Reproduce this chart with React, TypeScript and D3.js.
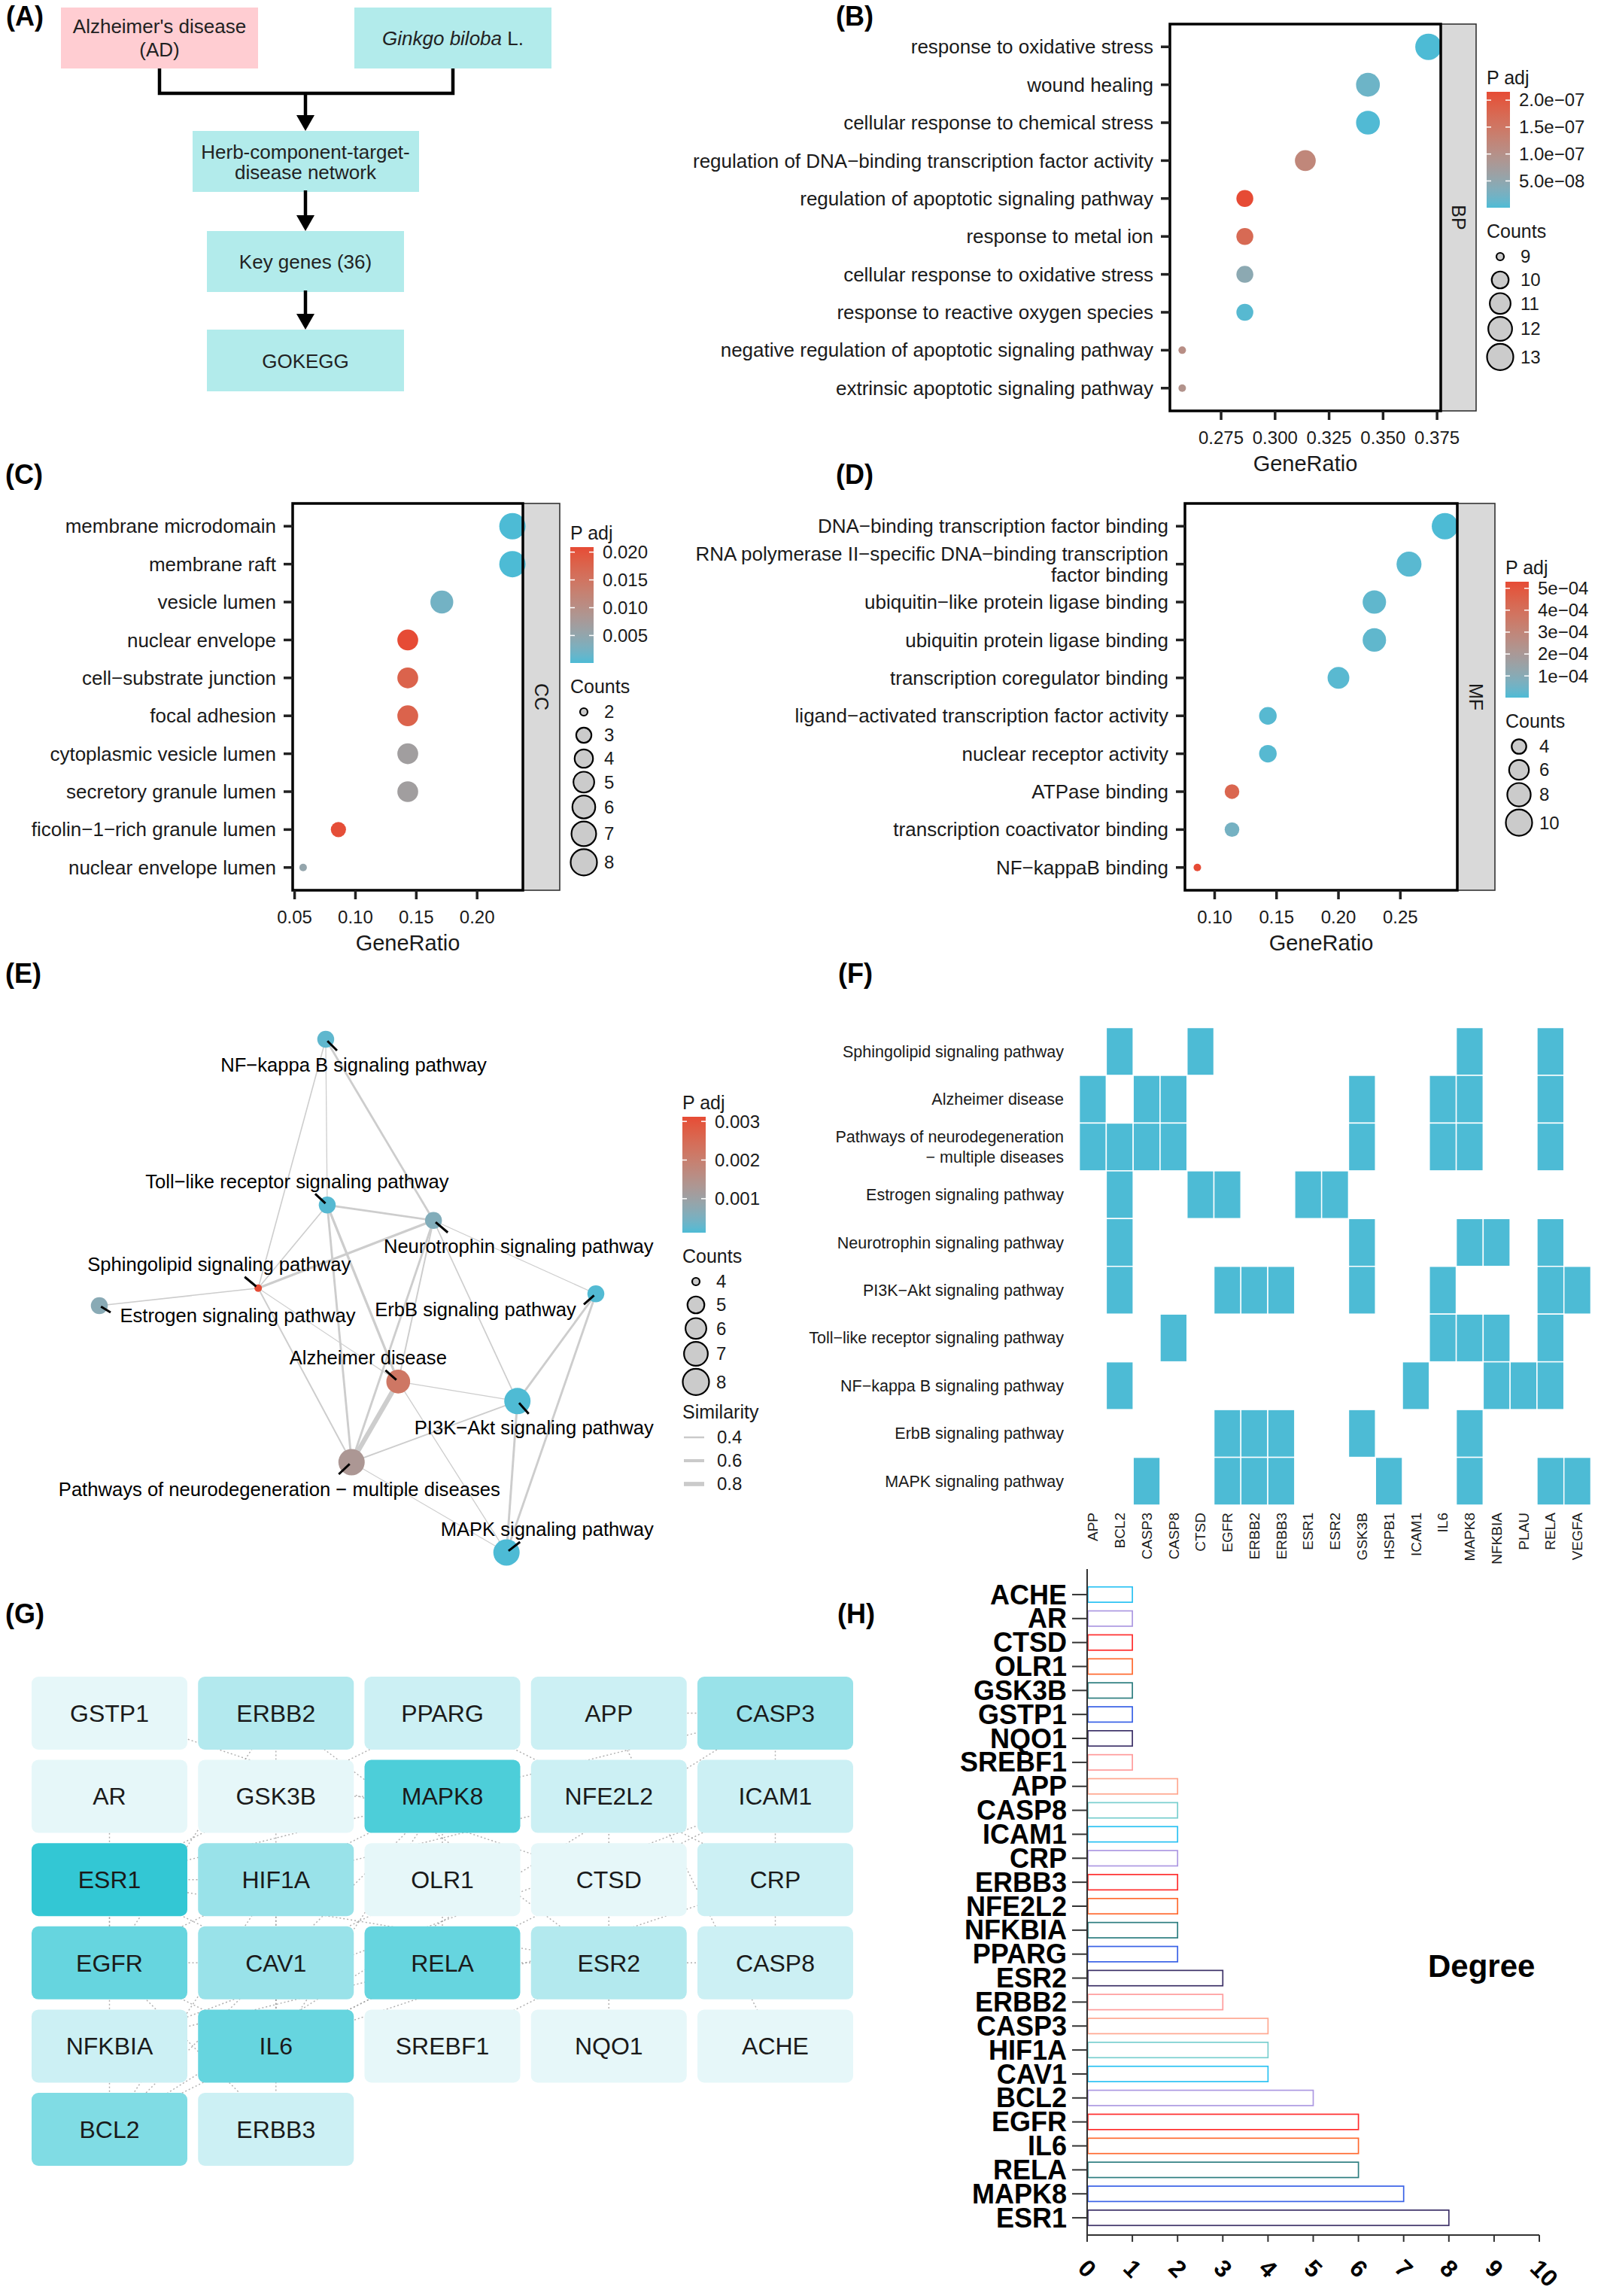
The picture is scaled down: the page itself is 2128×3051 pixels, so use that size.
import React from 'react';
import * as d3 from 'd3';

const W = 2128;
const H = 3051;
const FONT = "'Liberation Sans', Arimo, Arial, Helvetica, sans-serif";
const LOW = '#4DBBD5';
const HIGH = '#E64B35';
const INK = '#1a1a1a';

// ---------------- (B) GO biological process ----------------
const bpTerms = [
  'response to oxidative stress',
  'wound healing',
  'cellular response to chemical stress',
  'regulation of DNA−binding transcription factor activity',
  'regulation of apoptotic signaling pathway',
  'response to metal ion',
  'cellular response to oxidative stress',
  'response to reactive oxygen species',
  'negative regulation of apoptotic signaling pathway',
  'extrinsic apoptotic signaling pathway',
];
const bpRatio = [0.371, 0.343, 0.343, 0.314, 0.286, 0.286, 0.286, 0.286, 0.257, 0.257];
const bpCount = [13, 12, 12, 11, 10, 10, 10, 10, 9, 9];
const bpPadj = [3e-10, 1.8e-8, 2e-9, 1.2e-7, 2.155e-7, 1.72e-7, 4.5e-8, 5e-9, 1.05e-7, 0.95e-7];
const bpXTicks = [0.275, 0.3, 0.325, 0.35, 0.375];
const bpCbTicks = [5e-8, 1e-7, 1.5e-7, 2e-7];
const bpSizeBreaks = [9, 10, 11, 12, 13];

// ---------------- (C) GO cellular component ----------------
const ccTerms = [
  'membrane microdomain',
  'membrane raft',
  'vesicle lumen',
  'nuclear envelope',
  'cell−substrate junction',
  'focal adhesion',
  'cytoplasmic vesicle lumen',
  'secretory granule lumen',
  'ficolin−1−rich granule lumen',
  'nuclear envelope lumen',
];
const ccRatio = [0.229, 0.229, 0.171, 0.143, 0.143, 0.143, 0.143, 0.143, 0.086, 0.057];
const ccCount = [8, 8, 6, 5, 5, 5, 5, 5, 3, 2];
const ccPadj = [5e-5, 6e-5, 0.0022, 0.0209, 0.0178, 0.0178, 0.0068, 0.0068, 0.0205, 0.0052];
const ccXTicks = [0.05, 0.1, 0.15, 0.2];
const ccCbTicks = [0.005, 0.01, 0.015, 0.02];
const ccSizeBreaks = [2, 3, 4, 5, 6, 7, 8];

// ---------------- (D) GO molecular function ----------------
const mfTerms = [
  'DNA−binding transcription factor binding',
  'RNA polymerase II−specific DNA−binding transcription\nfactor binding',
  'ubiquitin−like protein ligase binding',
  'ubiquitin protein ligase binding',
  'transcription coregulator binding',
  'ligand−activated transcription factor activity',
  'nuclear receptor activity',
  'ATPase binding',
  'transcription coactivator binding',
  'NF−kappaB binding',
];
const mfRatio = [0.286, 0.257, 0.229, 0.229, 0.2, 0.143, 0.143, 0.114, 0.114, 0.086];
const mfCount = [10, 9, 8, 8, 7, 5, 5, 4, 4, 3];
const mfPadj = [1e-6, 1.5e-5, 2.5e-5, 2.5e-5, 1.5e-5, 1.2e-5, 1.2e-5, 4.4e-4, 6e-5, 5.3e-4];
const mfXTicks = [0.1, 0.15, 0.2, 0.25];
const mfCbTicks = [1e-4, 2e-4, 3e-4, 4e-4, 5e-4];
const mfSizeBreaks = [4, 6, 8, 10];

// ---------------- (E)/(F) KEGG ----------------
const keggTerms = [
  'Sphingolipid signaling pathway',
  'Alzheimer disease',
  'Pathways of neurodegeneration − multiple diseases',
  'Estrogen signaling pathway',
  'Neurotrophin signaling pathway',
  'PI3K−Akt signaling pathway',
  'Toll−like receptor signaling pathway',
  'NF−kappa B signaling pathway',
  'ErbB signaling pathway',
  'MAPK signaling pathway',
];
const keggGenes = [
  ['BCL2', 'CTSD', 'MAPK8', 'RELA'],
  ['APP', 'CASP3', 'CASP8', 'GSK3B', 'IL6', 'MAPK8', 'RELA'],
  ['APP', 'BCL2', 'CASP3', 'CASP8', 'GSK3B', 'IL6', 'MAPK8', 'RELA'],
  ['BCL2', 'CTSD', 'EGFR', 'ESR1', 'ESR2'],
  ['BCL2', 'GSK3B', 'MAPK8', 'NFKBIA', 'RELA'],
  ['BCL2', 'EGFR', 'ERBB2', 'ERBB3', 'GSK3B', 'IL6', 'RELA', 'VEGFA'],
  ['CASP8', 'IL6', 'MAPK8', 'NFKBIA', 'RELA'],
  ['BCL2', 'ICAM1', 'NFKBIA', 'PLAU', 'RELA'],
  ['EGFR', 'ERBB2', 'ERBB3', 'GSK3B', 'MAPK8'],
  ['CASP3', 'EGFR', 'ERBB2', 'ERBB3', 'HSPB1', 'MAPK8', 'RELA', 'VEGFA'],
];
const keggPadj = [0.00312, 0.0022, 0.0013, 0.0007, 0.0006, 0.00013, 0.00018, 0.00025, 0.00015, 0.00012];
// network layout coordinates (arbitrary layout units)
const emapX = [3.2, 6.02, 5.08, 0.0, 6.73, 8.42, 4.59, 4.56, 10.0, 8.2];
const emapY = [4.85, 6.67, 8.24, 5.19, 3.53, 7.05, 3.23, 0.0, 4.96, 10.0];
const eCbTicks = [0.001, 0.002, 0.003];
const eSizeBreaks = [4, 5, 6, 7, 8];
const eSimBreaks = [0.4, 0.6, 0.8];
const fGenes = ['APP', 'BCL2', 'CASP3', 'CASP8', 'CTSD', 'EGFR', 'ERBB2', 'ERBB3', 'ESR1', 'ESR2', 'GSK3B', 'HSPB1', 'ICAM1', 'IL6', 'MAPK8', 'NFKBIA', 'PLAU', 'RELA', 'VEGFA'];

// ---------------- (G)/(H) PPI hub genes ----------------
const hGenes = ['ACHE', 'AR', 'CTSD', 'OLR1', 'GSK3B', 'GSTP1', 'NQO1', 'SREBF1', 'APP', 'CASP8', 'ICAM1', 'CRP', 'ERBB3', 'NFE2L2', 'NFKBIA', 'PPARG', 'ESR2', 'ERBB2', 'CASP3', 'HIF1A', 'CAV1', 'BCL2', 'EGFR', 'IL6', 'RELA', 'MAPK8', 'ESR1'];
const hDegree = [1, 1, 1, 1, 1, 1, 1, 1, 2, 2, 2, 2, 2, 2, 2, 2, 3, 3, 4, 4, 4, 5, 6, 6, 6, 7, 8];
const hTicks = [0, 1, 2, 3, 4, 5, 6, 7, 8, 9, 10];
const gTileOrder = ['GSTP1', 'ERBB2', 'PPARG', 'APP', 'CASP3', 'AR', 'GSK3B', 'MAPK8', 'NFE2L2', 'ICAM1', 'ESR1', 'HIF1A', 'OLR1', 'CTSD', 'CRP', 'EGFR', 'CAV1', 'RELA', 'ESR2', 'CASP8', 'NFKBIA', 'IL6', 'SREBF1', 'NQO1', 'ACHE', 'BCL2', 'ERBB3'];
const gEdges: [string, string][] = [
  ['ESR1', 'ESR2'], ['ESR1', 'EGFR'], ['ESR1', 'AR'], ['ESR1', 'BCL2'], ['ESR1', 'CAV1'], ['ESR1', 'HIF1A'], ['ESR1', 'PPARG'], ['ESR1', 'MAPK8'],
  ['MAPK8', 'RELA'], ['MAPK8', 'IL6'], ['MAPK8', 'EGFR'], ['MAPK8', 'BCL2'], ['MAPK8', 'CASP3'], ['MAPK8', 'GSK3B'],
  ['RELA', 'IL6'], ['RELA', 'NFKBIA'], ['RELA', 'ICAM1'], ['RELA', 'BCL2'], ['RELA', 'CASP8'],
  ['IL6', 'EGFR'], ['IL6', 'HIF1A'], ['IL6', 'CRP'], ['IL6', 'CAV1'],
  ['EGFR', 'ERBB2'], ['EGFR', 'ERBB3'], ['EGFR', 'CAV1'],
  ['BCL2', 'CASP3'], ['BCL2', 'HIF1A'], ['CAV1', 'OLR1'], ['HIF1A', 'NFE2L2'],
  ['CASP3', 'CASP8'], ['CASP3', 'APP'], ['ERBB2', 'ERBB3'], ['ERBB2', 'ESR2'], ['ESR2', 'SREBF1'],
  ['PPARG', 'CRP'], ['NFKBIA', 'ICAM1'], ['NFE2L2', 'NQO1'], ['APP', 'ACHE'], ['GSTP1', 'CTSD'],
];
const hPalette = ['#3d3168', '#3a62e6', '#2e7e80', '#ff6a30', '#ff2d2d', '#ad99e2', '#2ac2f3', '#7acfcf', '#ffa891', '#ff9c9c'];

// ---------------- helpers ----------------
function padjScale(vals: number[]) {
  const ext = d3.extent(vals) as [number, number];
  return d3.scaleLinear<string>().domain(ext).range([LOW, HIGH]).interpolate(d3.interpolateLab);
}
function sizeScale(counts: number[], rmin = 5, rmax = 17.5) {
  const [lo, hi] = d3.extent(counts) as [number, number];
  const s = d3.scaleLinear().domain([0, 1]).range([rmin, rmax]);
  return (c: number) => s(Math.sqrt(Math.max(0, (c - lo) / (hi - lo))));
}
function expFmt(digits: number) {
  return (v: number) => {
    const [m, e] = v.toExponential(digits).split('e');
    const n = parseInt(e, 10);
    return `${m}e${n < 0 ? '−' : '+'}${String(Math.abs(n)).padStart(2, '0')}`;
  };
}

function Legend(props: {
  id: string; x: number; titleY: number; color: d3.ScaleLinear<string, string>; ticks: number[];
  fmt: (v: number) => string; sizeBreaks: number[]; size: (c: number) => number;
}) {
  const { id, x, titleY, color, ticks, fmt, sizeBreaks, size } = props;
  const [d0, d1] = color.domain();
  const cbTop = titleY + 10;
  const cbH = 154;
  const cbW = 31;
  const cy = d3.scaleLinear().domain([d0, d1]).range([cbTop + cbH, cbTop]);
  const stops = d3.range(0, 1.0001, 0.05);
  const countsTitleY = cbTop + cbH + 40;
  const centers: number[] = [];
  const hs = sizeBreaks.map((b) => Math.max(31, 2 * size(b) + 4));
  sizeBreaks.forEach((b, i) => {
    if (i === 0) centers.push(countsTitleY + 25);
    else centers.push(centers[i - 1] + hs[i - 1] / 2 + hs[i] / 2);
  });
  return (
    <g fill={INK}>
      <defs>
        <linearGradient id={id} x1="0" y1="1" x2="0" y2="0">
          {stops.map((t) => (
            <stop key={t} offset={t} stopColor={color(d0 + t * (d1 - d0))} />
          ))}
        </linearGradient>
      </defs>
      <text x={x} y={titleY} fontSize={25}>P adj</text>
      <rect x={x} y={cbTop} width={cbW} height={cbH} fill={`url(#${id})`} />
      {ticks.map((t) => (
        <g key={t}>
          <line x1={x} x2={x + 6} y1={cy(t)} y2={cy(t)} stroke="#fff" strokeWidth={1.5} />
          <line x1={x + cbW - 6} x2={x + cbW} y1={cy(t)} y2={cy(t)} stroke="#fff" strokeWidth={1.5} />
          <text x={x + 43} y={cy(t)} dy="0.35em" fontSize={24}>{fmt(t)}</text>
        </g>
      ))}
      <text x={x} y={countsTitleY} fontSize={25}>Counts</text>
      {sizeBreaks.map((b, i) => (
        <g key={b}>
          <circle cx={x + 18} cy={centers[i]} r={size(b)} fill="#cbcbcb" stroke="#000" strokeWidth={2.2} />
          <text x={x + 45} y={centers[i]} dy="0.35em" fontSize={24}>{b}</text>
        </g>
      ))}
    </g>
  );
}

function DotPanel(props: {
  id: string; terms: string[]; ratio: number[]; count: number[]; padj: number[];
  x0: number; x1: number; y0: number; y1: number; stripW: number; strip: string;
  xTicks: number[]; xFmt: (v: number) => string; cbTicks: number[]; cbFmt: (v: number) => string;
  sizeBreaks: number[]; legendTitleY: number;
}) {
  const p = props;
  const [rlo, rhi] = d3.extent(p.ratio) as [number, number];
  const pad = (rhi - rlo) * 0.05;
  const x = d3.scaleLinear().domain([rlo - pad, rhi + pad]).range([p.x0, p.x1]);
  const y = d3.scalePoint<string>().domain(p.terms).range([p.y0, p.y1]).padding(0.6);
  const color = padjScale(p.padj);
  const size = sizeScale(p.count);
  return (
    <g fontFamily={FONT}>
      <rect x={p.x1} y={p.y0} width={p.stripW} height={p.y1 - p.y0} fill="#d9d9d9" stroke="#333" strokeWidth={1.6} />
      <text transform={`translate(${p.x1 + p.stripW / 2},${(p.y0 + p.y1) / 2}) rotate(90)`} textAnchor="middle" dy="0.35em" fontSize={25} fill={INK}>
        {p.strip}
      </text>
      <rect x={p.x0} y={p.y0} width={p.x1 - p.x0} height={p.y1 - p.y0} fill="#fff" />
      {p.terms.map((t, i) => (
        <circle key={t} cx={x(p.ratio[i])} cy={y(t)} r={size(p.count[i])} fill={color(p.padj[i])} />
      ))}
      <rect x={p.x0} y={p.y0} width={p.x1 - p.x0} height={p.y1 - p.y0} fill="none" stroke="#000" strokeWidth={3.5} />
      {p.terms.map((t) => {
        const lines = t.split('\n');
        const yy = y(t) as number;
        return (
          <g key={t}>
            <line x1={p.x0 - 12} x2={p.x0} y1={yy} y2={yy} stroke="#222" strokeWidth={3.5} />
            {lines.map((ln, k) => (
              <text key={k} x={p.x0 - 22} y={yy + (k - (lines.length - 1) / 2) * 28} dy="0.35em" textAnchor="end" fontSize={26} fill={INK}>
                {ln}
              </text>
            ))}
          </g>
        );
      })}
      {p.xTicks.map((v) => (
        <g key={v}>
          <line x1={x(v)} x2={x(v)} y1={p.y1} y2={p.y1 + 12} stroke="#222" strokeWidth={3.5} />
          <text x={x(v)} y={p.y1 + 36} dy="0.35em" textAnchor="middle" fontSize={24} fill={INK}>{p.xFmt(v)}</text>
        </g>
      ))}
      <text x={(p.x0 + p.x1) / 2} y={p.y1 + 70} dy="0.35em" textAnchor="middle" fontSize={29} fill={INK}>GeneRatio</text>
      <Legend id={p.id} x={p.x1 + p.stripW + 14} titleY={p.legendTitleY} color={color} ticks={p.cbTicks} fmt={p.cbFmt} sizeBreaks={p.sizeBreaks} size={size} />
    </g>
  );
}

function PanelA() {
  const pink = '#ffcdd2';
  const cyan = '#b2ebeb';
  const txt = { fontSize: 26, fill: '#222', textAnchor: 'middle' as const };
  const arrows: [number, number][] = [[124, 174], [255, 307], [388, 438]];
  const ax = 406;
  return (
    <g>
      <rect x={81} y={10} width={262} height={81} fill={pink} />
      <text x={212} y={35} dy="0.35em" {...txt}>Alzheimer's disease</text>
      <text x={212} y={66} dy="0.35em" {...txt}>(AD)</text>
      <rect x={471} y={10} width={262} height={81} fill={cyan} />
      <text x={602} y={51} dy="0.35em" {...txt}>
        <tspan fontStyle="italic">Ginkgo biloba</tspan> L.
      </text>
      <rect x={256} y={174} width={301} height={81} fill={cyan} />
      <text x={406} y={202} dy="0.35em" {...txt}>Herb-component-target-</text>
      <text x={406} y={229} dy="0.35em" {...txt}>disease network</text>
      <rect x={275} y={307} width={262} height={81} fill={cyan} />
      <text x={406} y={348} dy="0.35em" {...txt}>Key genes (36)</text>
      <rect x={275} y={438} width={262} height={82} fill={cyan} />
      <text x={406} y={480} dy="0.35em" {...txt}>GOKEGG</text>
      <path d="M212,91 V124 H602 V91" fill="none" stroke="#000" strokeWidth={4.5} />
      {arrows.map(([a, b]) => (
        <g key={a}>
          <line x1={ax} x2={ax} y1={a - 2} y2={b - 18} stroke="#000" strokeWidth={4.5} />
          <polygon points={`${ax - 12},${b - 21} ${ax + 12},${b - 21} ${ax},${b}`} fill="#000" />
        </g>
      ))}
    </g>
  );
}

function PanelE() {
  const ex = d3.scaleLinear().domain([0, 10]).range([132, 792]);
  const ey = d3.scaleLinear().domain([0, 10]).range([1381, 2063]);
  const counts = keggGenes.map((g) => g.length);
  const size = sizeScale(counts, 5, 17.5);
  const color = padjScale(keggPadj);
  const ew = d3.scaleLinear().domain([0.4, 0.8]).range([2.5, 5.7]);
  const edges: { a: number; b: number; s: number }[] = [];
  for (let i = 0; i < keggGenes.length; i++) {
    for (let j = i + 1; j < keggGenes.length; j++) {
      const A = new Set(keggGenes[i]);
      const inter = keggGenes[j].filter((g) => A.has(g)).length;
      const union = new Set([...keggGenes[i], ...keggGenes[j]]).size;
      const s = inter / union;
      if (s > 0.2 + 1e-9) edges.push({ a: i, b: j, s });
    }
  }
  // label placement (px offsets from node): label centre, segment end
  const lab: [number, number, number, number][] = [
    [-52, -32, -18, -15],
    [-40, -32, -17, -15],
    [-96, 36, -17, 16],
    [184, 13, 15, 9],
    [113, 34, 19, 16],
    [22, 35, 15, 17],
    [-40, -31, -16, -15],
    [37, 34, 15, 15],
    [-160, 21, -16, 14],
    [54, -31, 18, -14],
  ];
  const legX = 907;
  const legTitleY = 1474;
  const simTitleY = 1885;
  return (
    <g>
      {edges.map((e) => (
        <line key={`${e.a}-${e.b}`} x1={ex(emapX[e.a])} y1={ey(emapY[e.a])} x2={ex(emapX[e.b])} y2={ey(emapY[e.b])}
          stroke="#cdcdcd" strokeWidth={Math.max(1, ew(e.s))} />
      ))}
      {keggTerms.map((t, i) => (
        <circle key={t} cx={ex(emapX[i])} cy={ey(emapY[i])} r={size(counts[i])} fill={color(keggPadj[i])} />
      ))}
      {keggTerms.map((t, i) => {
        const cx = ex(emapX[i]);
        const cy = ey(emapY[i]);
        const [dx, dy, sx, sy] = lab[i];
        return (
          <g key={t}>
            <line x1={cx + sx * 0.15} y1={cy + sy * 0.15} x2={cx + sx} y2={cy + sy} stroke="#000" strokeWidth={3} />
            <text x={cx + dx} y={cy + dy} dy="0.35em" textAnchor="middle" fontSize={25.6} fill="#000">{t}</text>
          </g>
        );
      })}
      <Legend id="gradE" x={legX} titleY={legTitleY} color={color} ticks={eCbTicks} fmt={d3.format('.3f')} sizeBreaks={eSizeBreaks} size={size} />
      <text x={legX} y={simTitleY} fontSize={25} fill={INK}>Similarity</text>
      {eSimBreaks.map((s, i) => (
        <g key={s}>
          <line x1={legX + 2} x2={legX + 29} y1={simTitleY + 25 + i * 31} y2={simTitleY + 25 + i * 31} stroke="#cacaca" strokeWidth={ew(s)} />
          <text x={legX + 46} y={simTitleY + 25 + i * 31} dy="0.35em" fontSize={24} fill={INK}>{s}</text>
        </g>
      ))}
    </g>
  );
}

function PanelF() {
  const fx = d3.scaleBand<string>().domain(fGenes).range([1434.6, 2114.5]);
  const fy = d3.scaleBand<string>().domain(keggTerms).range([1365.5, 2000]);
  return (
    <g>
      {keggTerms.map((t, i) =>
        keggGenes[i].map((g) => (
          <rect key={t + g} x={fx(g)} y={fy(t)} width={fx.bandwidth()} height={fy.bandwidth()} fill={LOW} stroke="#fff" strokeWidth={1.5} />
        ))
      )}
      {keggTerms.map((t) => {
        const lines = t.replace(' − ', '\n− ').split('\n');
        const yc = (fy(t) as number) + fy.bandwidth() / 2;
        return lines.map((ln, k) => (
          <text key={t + k} x={1414} y={yc + (k - (lines.length - 1) / 2) * 27} dy="0.35em" textAnchor="end" fontSize={21.5} fill={INK}>
            {ln}
          </text>
        ));
      })}
      {fGenes.map((g) => (
        <text key={g} transform={`translate(${(fx(g) as number) + fx.bandwidth() / 2},2010) rotate(-90)`} dy="0.35em" textAnchor="end" fontSize={19} fill={INK}>
          {g}
        </text>
      ))}
    </g>
  );
}

function PanelG() {
  const degreeOf = new Map(hGenes.map((g, i) => [g, hDegree[i]]));
  const col = d3.scaleBand<number>().domain(d3.range(5)).range([42, 1134]).paddingInner(0.0644);
  const row = d3.scaleBand<number>().domain(d3.range(6)).range([2228, 2878]).paddingInner(0.123);
  const fill = d3.scaleLinear<string>().domain([1, 8]).range(['#e6f7f9', '#33c7d4']);
  const pos = new Map(
    gTileOrder.map((g, i) => [g, { x: col(i % 5) as number, y: row(Math.floor(i / 5)) as number }])
  );
  const bw = col.bandwidth();
  const bh = row.bandwidth();
  return (
    <g>
      {gEdges.map(([a, b]) => {
        const pa = pos.get(a)!;
        const pb = pos.get(b)!;
        return (
          <line key={a + b} x1={pa.x + bw / 2} y1={pa.y + bh / 2} x2={pb.x + bw / 2} y2={pb.y + bh / 2}
            stroke="#9a9a9a" strokeWidth={1.4} strokeDasharray="2 3" opacity={0.8} />
        );
      })}
      {gTileOrder.map((g) => {
        const p = pos.get(g)!;
        return (
          <g key={g}>
            <rect x={p.x} y={p.y} width={bw} height={bh} rx={9} fill={fill(degreeOf.get(g) ?? 1)} />
            <text x={p.x + bw / 2} y={p.y + bh / 2} dy="0.35em" textAnchor="middle" fontSize={32} fill={INK}>{g}</text>
          </g>
        );
      })}
    </g>
  );
}

function PanelH() {
  const hx = d3.scaleLinear().domain([0, 10]).range([1445, 2046]);
  const hy = d3.scaleBand<string>().domain(hGenes).range([2103, 2963]).paddingInner(0.36).paddingOuter(0.18);
  const n = hGenes.length;
  return (
    <g>
      {hGenes.map((g, i) => (
        <rect key={g} x={hx(0) + 1} y={hy(g)} width={hx(hDegree[i]) - hx(0) - 1} height={hy.bandwidth()}
          fill="#fff" stroke={hPalette[(n - 1 - i) % hPalette.length]} strokeWidth={1.7} />
      ))}
      <line x1={hx(0)} x2={hx(0)} y1={2085} y2={2971} stroke="#333" strokeWidth={2} />
      <line x1={hx(0)} x2={hx(10)} y1={2970} y2={2970} stroke="#333" strokeWidth={2} />
      {hGenes.map((g) => {
        const yc = (hy(g) as number) + hy.bandwidth() / 2;
        return (
          <g key={g}>
            <line x1={1425} x2={hx(0)} y1={yc} y2={yc} stroke="#333" strokeWidth={2} />
            <text x={1418} y={yc} dy="0.35em" textAnchor="end" fontSize={36} fontWeight="bold" fill="#000">{g}</text>
          </g>
        );
      })}
      {hTicks.map((t) => (
        <g key={t}>
          <line x1={hx(t)} x2={hx(t)} y1={2970} y2={2979} stroke="#333" strokeWidth={2} />
          <text transform={`translate(${hx(t) - 6},3008) rotate(45)`} dy="0.35em" fontSize={32} fontWeight="bold" fill="#000">{t}</text>
        </g>
      ))}
      <text x={1898} y={2612} dy="0.35em" fontSize={42} fontWeight="bold" fill="#000">Degree</text>
    </g>
  );
}

function PanelLabels() {
  const labs: [string, number, number][] = [
    ['(A)', 8, 34], ['(B)', 1111, 34], ['(C)', 7, 643], ['(D)', 1111, 643],
    ['(E)', 7, 1306], ['(F)', 1114, 1306], ['(G)', 7, 2157], ['(H)', 1113, 2157],
  ];
  return (
    <g>
      {labs.map(([t, x, y]) => (
        <text key={t} x={x} y={y} fontSize={36} fontWeight="bold" fill="#000">{t}</text>
      ))}
    </g>
  );
}

export default function App() {
  return (
    <svg width={W} height={H} viewBox={`0 0 ${W} ${H}`} style={{ position: 'absolute', left: 0, top: 0, background: '#fff' }} fontFamily={FONT}>
      <rect width={W} height={H} fill="#fff" />
      <PanelLabels />
      <PanelA />
      <DotPanel id="gradB" terms={bpTerms} ratio={bpRatio} count={bpCount} padj={bpPadj}
        x0={1555} x1={1915} y0={32} y1={546} stripW={47} strip="BP"
        xTicks={bpXTicks} xFmt={d3.format('.3f')} cbTicks={bpCbTicks} cbFmt={expFmt(1)} sizeBreaks={bpSizeBreaks} legendTitleY={112} />
      <DotPanel id="gradC" terms={ccTerms} ratio={ccRatio} count={ccCount} padj={ccPadj}
        x0={389} x1={695} y0={669} y1={1183} stripW={49} strip="CC"
        xTicks={ccXTicks} xFmt={d3.format('.2f')} cbTicks={ccCbTicks} cbFmt={d3.format('.3f')} sizeBreaks={ccSizeBreaks} legendTitleY={717} />
      <DotPanel id="gradD" terms={mfTerms} ratio={mfRatio} count={mfCount} padj={mfPadj}
        x0={1575} x1={1937} y0={669} y1={1183} stripW={50} strip="MF"
        xTicks={mfXTicks} xFmt={d3.format('.2f')} cbTicks={mfCbTicks} cbFmt={expFmt(0)} sizeBreaks={mfSizeBreaks} legendTitleY={763} />
      <PanelE />
      <PanelF />
      <PanelG />
      <PanelH />
    </svg>
  );
}
